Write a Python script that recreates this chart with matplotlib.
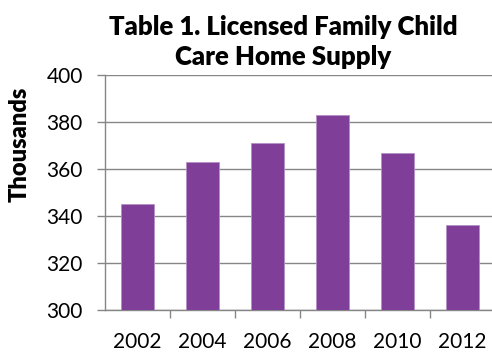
import matplotlib

matplotlib.use("Agg")
import matplotlib.pyplot as plt  # noqa: E402

years = ["2002", "2004", "2006", "2008", "2010", "2012"]
supply = [345, 363, 371, 383, 367, 336]
y_ticks = [300, 320, 340, 360, 380, 400]

plt.rcParams["font.family"] = ["Lato", "DejaVu Sans"]

W, H = 492, 352
fig = plt.figure(figsize=(W / 100, H / 100), dpi=100)
fig.patch.set_facecolor("white")

# axes run a little past the right edge, like the original
ax = fig.add_axes([105 / W, (H - 310) / H, 390 / W, 235 / H])

xs = range(len(years))
ax.bar(xs, [v - 300 for v in supply], bottom=300, width=0.51,
       color="#7F3F98", edgecolor="#B58FC6", linewidth=0.6, zorder=3)

ax.set_xlim(-0.5, len(years) - 0.5)
ax.set_ylim(300, 400)
ax.set_yticks(y_ticks)
ax.set_yticklabels([str(t) for t in y_ticks], fontsize=15)
ax.set_xticks(xs)
ax.set_xticklabels(years, fontsize=15)
ax.tick_params(axis="x", length=0, pad=16)
ax.set_xticks([i + 0.5 for i in xs], minor=True)
ax.tick_params(axis="x", which="minor", length=6, color="#868686", width=1)
ax.tick_params(axis="y", length=6, color="#868686", width=1, pad=10)

ax.grid(axis="y", color="#868686", linewidth=1, zorder=0)
for s in ("top", "right"):
    ax.spines[s].set_visible(False)
for s in ("left", "bottom"):
    ax.spines[s].set_color("#868686")
    ax.spines[s].set_linewidth(1)

ax.set_ylabel("Thousands", fontsize=17, fontweight="heavy")
ax.yaxis.set_label_coords(-(105 - 31) / 390, 0.5 + (192 - 144) / 235)

fig.text(283 / W, 1 - 42 / H, "Table 1. Licensed Family Child\nCare Home Supply",
         ha="center", va="center", fontsize=18.5, fontweight="heavy",
         linespacing=1.28)

fig.savefig("out.png", dpi=100, facecolor="white")
